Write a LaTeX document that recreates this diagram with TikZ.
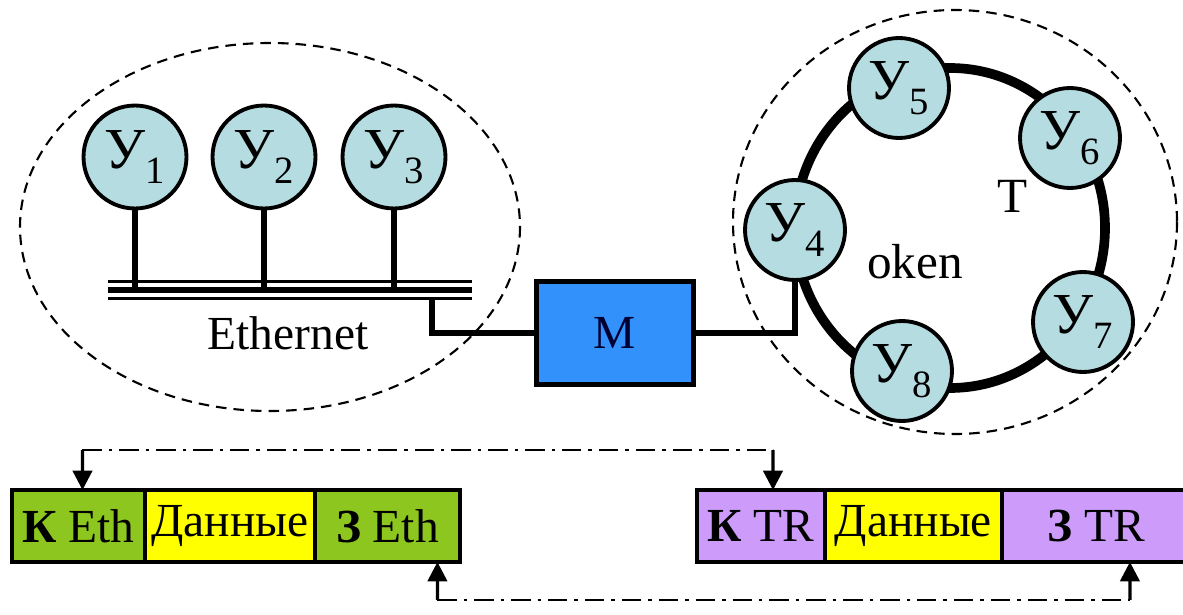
\documentclass[tikz,border=0pt]{standalone}
\usepackage{fontspec}
\setmainfont{Liberation Serif}
\usetikzlibrary{arrows.meta,positioning}

\definecolor{stationfill}{RGB}{180,220,225}
\definecolor{hubblue}{RGB}{50,145,250}
\definecolor{ethgreen}{RGB}{140,198,30}
\definecolor{datayellow}{RGB}{255,255,0}
\definecolor{trviolet}{RGB}{205,155,250}

\newcommand{\stn}[1]{У\raisebox{-0.55ex}{\fontsize{22}{22}\selectfont #1}}

\tikzset{
  station/.style={circle,draw,line width=2.2pt,fill=stationfill,inner sep=0pt,
    minimum size=2.06cm,font=\fontsize{33}{33}\selectfont},
  zone/.style={line width=1.2pt,dash pattern=on 6pt off 4pt},
  wire/.style={line width=3pt},
  field/.style={draw,line width=2.2pt,inner sep=0pt,outer sep=0pt,
    minimum height=1.44cm,font=\fontsize{27}{27}\selectfont},
  link/.style={line width=1.6pt,dash pattern=on 11pt off 4pt on 2pt off 4pt},
  tip/.style={line width=1.8pt,-{Triangle[length=11pt,width=11pt]}}
}

\begin{document}
\begin{tikzpicture}[x=0.02cm,y=-0.02cm]
\useasboundingbox (0,0) rectangle (1183,615);

% Ethernet segment
\draw[zone] (270,227) ellipse [x radius=250,y radius=184];
\node[station] (y1) at (135,157) {\stn{1}};
\node[station] (y2) at (264,157) {\stn{2}};
\node[station] (y3) at (394,157) {\stn{3}};
\coordinate (busl) at (108,290);
\coordinate (busr) at (472,290);
\draw[line width=2pt] ([yshift=0.17cm]busl) -- ([yshift=0.17cm]busr);
\draw[line width=3pt] (busl) -- (busr);
\draw[line width=2pt] ([yshift=-0.17cm]busl) -- ([yshift=-0.17cm]busr);
\foreach \s in {y1,y2,y3}
  \draw[wire] (\s.south) -- (\s.south |- busl);
\node[font=\fontsize{27}{27}\selectfont] (eth) at (288,333) {Ethernet};

% bridge
\node[draw,line width=2.4pt,fill=hubblue,minimum width=3.14cm,minimum height=2.06cm,
  font=\fontsize{27}{27}\selectfont,text=black!80!blue] (m) at (615,333) {M};
\coordinate (tap) at (432,298);
\draw[wire] (tap) |- (m.west);

% Token Ring segment
\draw[zone] (955,222) ellipse [x radius=222,y radius=212];
\draw[line width=5.5pt] (950,228) ellipse [x radius=155,y radius=160];
\node[station,minimum size=2cm] (y4) at (795,230) {\stn{4}};
\node[station,minimum size=2cm] (y5) at (899,88) {\stn{5}};
\node[station,minimum size=2cm] (y6) at (1070,138) {\stn{6}};
\node[station,minimum size=2cm] (y7) at (1083,322) {\stn{7}};
\node[station,minimum size=2cm] (y8) at (902,371) {\stn{8}};
\draw[wire] (m.east) -| (y4.south);
\node[font=\fontsize{28}{28}\selectfont] (tk) at (1013,196) {T};
\node[font=\fontsize{28}{28}\selectfont] (ok) at (915,262) {oken};

% frames
\node[field,fill=ethgreen,minimum width=2.66cm,anchor=north west] (keth) at (12,490) {\textbf{К} Eth};
\node[field,fill=datayellow,minimum width=3.4cm,right=0pt of keth] (deth) {Данные};
\node[field,fill=ethgreen,minimum width=2.9cm,right=0pt of deth] (zeth) {\textbf{З} Eth};
\node[field,fill=trviolet,minimum width=2.56cm,anchor=north west] (ktr) at (697,490) {\textbf{К} TR};
\node[field,fill=datayellow,minimum width=3.54cm,right=0pt of ktr] (dtr) {Данные};
\node[field,fill=trviolet,minimum width=3.76cm,right=0pt of dtr] (ztr) {\textbf{З} TR};

% header and trailer correspondence
\coordinate (ha) at ([shift={(4,-40)}]keth.north);
\coordinate (hb) at ([shift={(12,-40)}]ktr.north);
\draw[link] (ha) -- (hb);
\draw[tip] (ha) -- ([xshift=0.08cm]keth.north);
\draw[tip] (hb) -- ([xshift=0.24cm]ktr.north);
\coordinate (ta) at ([shift={(50,38)}]zeth.south);
\coordinate (tb) at ([shift={(34,38)}]ztr.south);
\draw[link] (ta) -- (tb);
\draw[tip] (ta) -- ([xshift=1cm]zeth.south);
\draw[tip] (tb) -- ([xshift=0.68cm]ztr.south);
\end{tikzpicture}
\end{document}
